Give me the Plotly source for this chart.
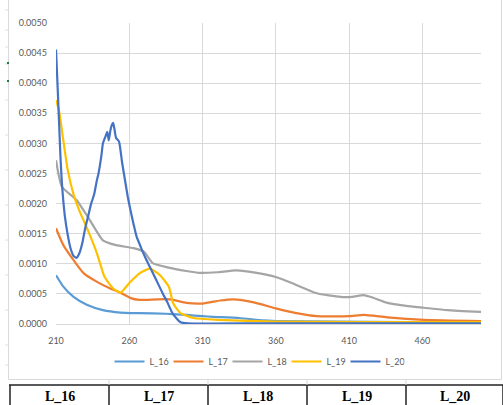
import plotly.graph_objects as go

# ---------------- data ----------------
series_names = ["L_16", "L_17", "L_18", "L_19", "L_20"]
series_colors = ["#5B9BD5", "#ED7D31", "#A5A5A5", "#FFC000", "#4472C4"]

l16_x = [210, 215, 222, 231, 242, 254, 267, 285, 299, 310, 317, 335, 351, 360, 400, 450, 500]
l16_y = [0.00081, 0.00062, 0.00045, 0.00032, 0.00023, 0.00019, 0.00018, 0.00017, 0.00015, 0.00013,
         0.00012, 0.00010, 0.00006, 0.00005, 0.00004, 0.00003, 0.00003]

l17_x = [210, 215, 222, 229, 238, 247, 254, 261, 267, 279, 288, 299, 310, 322, 331, 345, 360, 374,
         388, 410, 420, 436, 461, 500]
l17_y = [0.00159, 0.00131, 0.00106, 0.00084, 0.00070, 0.00059, 0.00052, 0.00043, 0.00040, 0.00041,
         0.00041, 0.00035, 0.00034, 0.00039, 0.00041, 0.00036, 0.00026, 0.00018, 0.00013, 0.00013,
         0.00015, 0.00011, 0.00007, 0.00005]

l18_x = [210, 214, 224, 233, 242, 251, 263, 270, 276, 286, 299, 308, 320, 333, 347, 360, 372, 388,
         404, 412, 420, 426, 436, 449, 461, 477, 500]
l18_y = [0.00272, 0.00228, 0.00206, 0.00173, 0.00139, 0.00131, 0.00126, 0.00120, 0.00101, 0.00094,
         0.00088, 0.00085, 0.00086, 0.00089, 0.00085, 0.00078, 0.00067, 0.00051, 0.00045, 0.00045,
         0.00048, 0.00044, 0.00035, 0.00030, 0.00027, 0.00023, 0.00020]

l19_x = [210, 212, 215, 218, 222, 226, 231, 238, 243, 249, 254, 260, 267, 274, 281, 287, 290, 295,
         304, 320, 360, 420, 500]
l19_y = [0.00372, 0.00355, 0.00305, 0.00256, 0.00215, 0.00188, 0.00160, 0.00117, 0.00079, 0.00059,
         0.00052, 0.00068, 0.00084, 0.00092, 0.00081, 0.00062, 0.00034, 0.00018, 0.00010, 0.00007,
         0.00004, 0.00003, 0.00003]

l20_x = [210, 211, 212, 213, 214, 216, 218, 220, 222, 224, 226, 228, 230, 232, 234, 236, 238, 239,
         241, 242, 244, 245, 246, 247, 248, 249, 250, 251, 253, 255, 257, 259, 261, 263, 265, 268,
         271, 274, 277, 280, 283, 286, 289, 292, 295, 300, 350, 400, 450, 500]
l20_y = [0.00456, 0.00400, 0.00340, 0.00280, 0.00235, 0.00180, 0.00148, 0.00125, 0.00113, 0.00110,
         0.00118, 0.00135, 0.00160, 0.00180, 0.00200, 0.00215, 0.00240, 0.00250, 0.00280, 0.00300,
         0.00313, 0.00319, 0.00305, 0.00320, 0.00330, 0.00334, 0.00322, 0.00309, 0.00303, 0.00270,
         0.00240, 0.00211, 0.00187, 0.00165, 0.00145, 0.00127, 0.00110, 0.00095, 0.00080, 0.00065,
         0.00050, 0.00036, 0.00020, 0.00010, 0.00003, 0.00001, 0.00001, 0.00001, 0.00001, 0.00001]

series_x = [l16_x, l17_x, l18_x, l19_x, l20_x]
series_y = [l16_y, l17_y, l18_y, l19_y, l20_y]

x_ticks = [210, 260, 310, 360, 410, 460]
table_labels = ["L_16", "L_17", "L_18", "L_19", "L_20"]

# ---------------- layout helpers ----------------
W, H = 503, 405
ML, MR, MT, MB = 56, 22, 23, 81
PW, PH = W - ML - MR, H - MT - MB


def px(x):
    return (x - ML) / PW


def py(y):
    return (H - MB - y) / PH


fig = go.Figure()
for name, color, xs, ys in zip(series_names, series_colors, series_x, series_y):
    fig.add_trace(go.Scatter(x=xs, y=ys, mode="lines", name=name,
                             line=dict(color=color, width=2.2, shape="spline", smoothing=0.5)))

font_tick = dict(family="Lato, Carlito, Liberation Sans, sans-serif", size=9, color="#595959")

fig.update_xaxes(range=[210, 500], tickmode="array", tickvals=x_ticks,
                 ticktext=[str(t) for t in x_ticks], showgrid=True, gridcolor="#D9D9D9",
                 gridwidth=1, zeroline=False, showline=True, linecolor="#D9D9D9", linewidth=1,
                 ticks="", tickfont=font_tick, ticklabelstandoff=8)
fig.update_yaxes(range=[0, 0.005], dtick=0.0005, tick0=0, tickformat=".4f", showgrid=True,
                 gridcolor="#D9D9D9", gridwidth=1, zeroline=False, showline=False, ticks="",
                 tickfont=font_tick, ticklabelstandoff=8)

shapes = []
# chart-area border
shapes.append(dict(type="rect", xref="paper", yref="paper", x0=px(8.5), x1=px(501.5),
                   y0=py(379.5), y1=py(-5), line=dict(color="#D9D9D9", width=1)))
# left tick marks of the sheet margin
for yy in [10, 30, 47, 64, 100, 135, 170, 205, 240, 275, 310, 345, 365]:
    shapes.append(dict(type="line", xref="paper", yref="paper", x0=px(5), x1=px(8),
                       y0=py(yy), y1=py(yy), line=dict(color="#E0E0E0", width=1)))
# tiny green marks
for yy in [63, 81]:
    shapes.append(dict(type="line", xref="paper", yref="paper", x0=px(7), x1=px(9),
                       y0=py(yy), y1=py(yy), line=dict(color="#1E7B45", width=2)))
# table row
cell_edges = [10, 109, 208, 307, 406, 503]
shapes.append(dict(type="line", xref="paper", yref="paper", x0=px(9), x1=px(503),
                   y0=py(385), y1=py(385), line=dict(color="#222222", width=1.5)))
for i, e in enumerate(cell_edges):
    shapes.append(dict(type="line", xref="paper", yref="paper", x0=px(e), x1=px(e),
                       y0=py(385), y1=py(406), line=dict(color="#222222", width=1.5)))
    if 0 < i < len(cell_edges) - 1:
        shapes.append(dict(type="line", xref="paper", yref="paper", x0=px(e), x1=px(e),
                           y0=py(379.5), y1=py(385), line=dict(color="#D9D9D9", width=1)))

annotations = []
for lab, a, b in zip(table_labels, cell_edges[:-1], cell_edges[1:]):
    annotations.append(dict(text="<b>" + lab + "</b>", xref="paper", yref="paper",
                            x=px((a + b) / 2), y=py(396.5), showarrow=False,
                            xanchor="center", yanchor="middle",
                            font=dict(family="Liberation Serif, Times New Roman, serif",
                                      size=14, color="#000000")))

fig.update_layout(
    width=W, height=H, margin=dict(l=ML, r=MR, t=MT, b=MB, pad=0),
    paper_bgcolor="white", plot_bgcolor="white",
    showlegend=True,
    legend=dict(orientation="h", x=px(257), xanchor="center", y=py(361.5), yanchor="middle",
                font=font_tick, bgcolor="rgba(0,0,0,0)", itemwidth=30,
                entrywidth=14, entrywidthmode="pixels"),
    shapes=shapes, annotations=annotations,
)

fig.write_html("out.html")
